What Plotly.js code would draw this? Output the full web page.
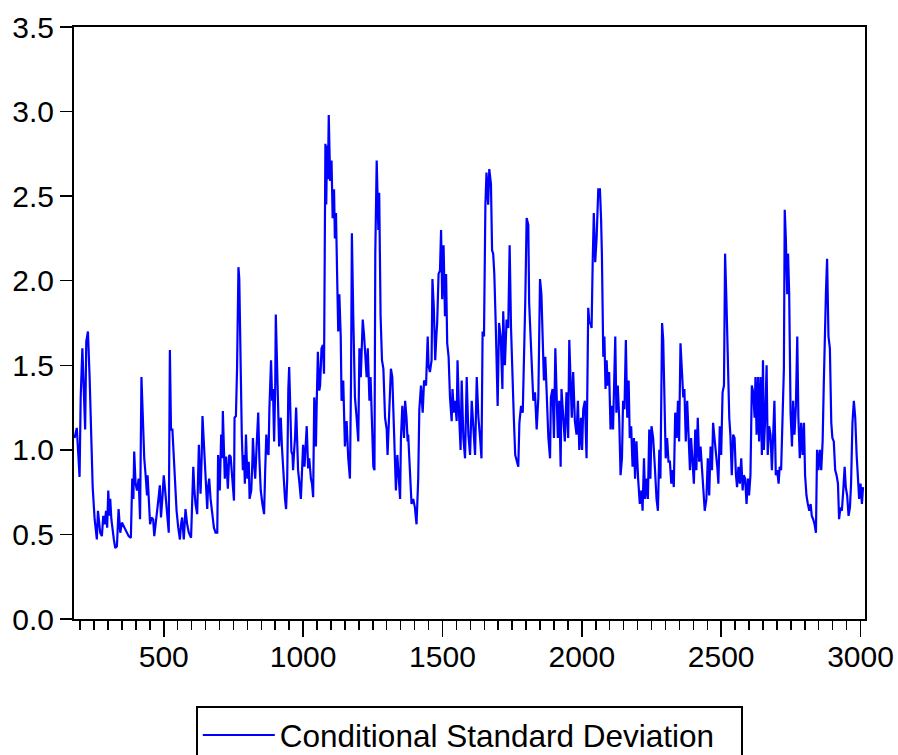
<!DOCTYPE html>
<html>
<head>
<meta charset="utf-8">
<script src="https://cdn.plot.ly/plotly-3.0.1.min.js"></script>
<style>
  html, body { margin: 0; padding: 0; background: #ffffff; }
  #chart { width: 898px; height: 755px; }
</style>
</head>
<body>
<div id="chart"></div>
<script>
const obs = [
  180,188,198,202,208,213,218,222,228,234,239,245,252,260,264,269,272,278,283,288,
  293,297,301,305,308,312,317,321,326,332,338,344,350,356,362,368,374,382,387,391,
  394,399,404,410,415,420,426,430,435,440,442,447,451,456,462,466,471,476,481,486,
  490,495,500,505,512,518,522,526,531,536,541,546,552,558,562,566,572,578,584,590,
  598,603,606,610,614,620,624,626,630,632,636,639,643,646,651,656,659,663,668,674,
  680,686,692,695,699,701,706,710,712,716,719,724,730,735,740,746,752,754,759,763,
  768,771,775,780,784,788,791,795,800,805,808,814,818,820,824,828,834,839,843,848,
  854,860,864,868,872,876,879,881,885,889,892,896,900,902,906,908,912,914,918,920,
  924,926,929,932,935,939,943,947,950,953,958,962,964,968,971,975,979,982,987,992,
  995,1000,1005,1010,1013,1018,1022,1028,1032,1036,1040,1043,1046,1049,1053,1058,1061,1066,1071,1075,
  1078,1080,1083,1086,1089,1092,1097,1102,1106,1111,1114,1118,1122,1126,1130,1135,1138,1144,1150,1156,
  1162,1168,1172,1175,1180,1186,1192,1198,1202,1207,1210,1214,1219,1222,1228,1232,1238,1242,1246,1252,
  1256,1259,1264,1268,1270,1273,1278,1283,1288,1294,1300,1303,1308,1312,1315,1320,1324,1330,1333,1338,
  1344,1348,1351,1356,1362,1366,1371,1375,1377,1383,1389,1395,1401,1407,1411,1413,1417,1423,1429,1434,
  1441,1447,1450,1455,1461,1464,1469,1474,1478,1481,1486,1491,1495,1499,1504,1509,1513,1517,1522,1527,
  1533,1536,1541,1545,1551,1554,1560,1565,1569,1575,1581,1587,1593,1599,1605,1611,1617,1623,1629,1635,
  1640,1644,1649,1654,1658,1664,1668,1674,1678,1682,1686,1691,1694,1698,1703,1709,1715,1718,1724,1730,
  1736,1741,1746,1752,1756,1761,1766,1772,1776,1782,1788,1792,1797,1802,1808,1811,1816,1821,1826,1832,
  1838,1844,1850,1855,1859,1864,1869,1874,1880,1886,1889,1895,1900,1905,1909,1914,1919,1924,1927,1933,
  1939,1945,1951,1955,1960,1964,1969,1975,1981,1986,1991,1997,2001,2005,2011,2017,2023,2027,2031,2035,
  2039,2043,2048,2053,2059,2065,2069,2072,2077,2081,2085,2089,2093,2098,2103,2108,2112,2116,2120,2124,
  2129,2134,2139,2144,2148,2153,2158,2163,2168,2172,2177,2182,2187,2191,2196,2202,2208,2214,2218,2223,
  2227,2232,2237,2242,2246,2250,2256,2262,2268,2273,2278,2282,2288,2292,2297,2301,2306,2311,2316,2321,
  2325,2330,2335,2340,2345,2349,2354,2359,2364,2368,2373,2378,2383,2388,2392,2397,2402,2407,2411,2416,
  2421,2426,2431,2435,2441,2447,2452,2457,2462,2467,2471,2476,2481,2486,2490,2495,2500,2505,2510,2514,
  2519,2524,2529,2533,2538,2543,2548,2553,2557,2562,2567,2572,2577,2581,2586,2591,2596,2600,2605,2610,
  2615,2620,2623,2627,2632,2636,2641,2646,2650,2653,2658,2663,2667,2672,2677,2682,2687,2691,2696,2701,
  2706,2710,2715,2720,2725,2728,2732,2737,2740,2744,2749,2754,2758,2763,2768,2773,2777,2782,2787,2792,
  2797,2801,2806,2811,2816,2821,2825,2830,2835,2840,2844,2849,2854,2859,2864,2868,2872,2876,2880,2885,
  2890,2895,2899,2904,2909,2914,2919,2923,2928,2933,2938,2943,2947,2952,2957,2962,2966,2971,2976,2981,
  2986,2990,2995,3000,3005,3009
];
const condSD = [
  1.07,1.13,0.84,1.31,1.60,1.29,1.12,1.64,1.70,1.43,1.17,0.78,0.59,0.47,0.64,0.54,0.51,0.49,0.61,0.56,
  0.64,0.54,0.76,0.61,0.71,0.59,0.51,0.47,0.42,0.43,0.65,0.51,0.57,0.55,0.54,0.51,0.49,0.48,0.83,0.71,
  0.99,0.80,0.76,0.83,0.59,1.43,1.07,0.95,0.85,0.73,0.85,0.64,0.56,0.60,0.59,0.49,0.56,0.61,0.71,0.79,
  0.60,0.71,0.85,0.76,0.61,0.51,1.59,1.12,1.12,0.95,0.78,0.64,0.54,0.47,0.56,0.60,0.47,0.65,0.56,0.51,
  0.48,0.68,0.90,0.76,0.68,0.62,0.88,1.03,0.83,0.74,0.95,1.20,1.07,0.97,0.80,0.65,0.78,0.83,0.71,0.64,
  0.54,0.51,0.51,0.97,0.83,0.76,1.09,0.95,1.23,0.90,0.83,0.96,0.77,0.97,0.96,0.83,0.70,1.19,1.20,1.48,
  2.08,2.01,1.43,1.09,0.88,0.97,0.80,1.09,0.83,0.93,0.71,0.76,0.93,1.07,0.93,0.83,1.05,1.22,0.95,0.76,
  0.68,0.62,0.88,1.09,0.99,0.97,1.24,1.31,1.53,1.29,1.36,1.05,1.38,1.80,1.50,1.29,1.19,1.02,1.16,1.19,
  1.02,0.95,0.90,0.83,0.71,0.65,0.83,1.36,1.49,1.31,0.99,0.97,0.88,1.00,1.07,1.25,1.07,0.88,0.80,0.71,
  0.83,1.03,0.90,1.07,1.14,0.89,0.95,0.83,0.80,0.72,1.31,1.22,1.02,1.29,1.58,1.35,1.38,1.60,1.62,1.45,
  2.06,2.81,2.45,2.80,2.60,2.98,2.59,2.71,2.37,2.54,2.25,2.40,2.04,1.70,1.92,1.67,1.29,1.41,1.02,1.17,
  0.95,0.83,1.43,2.28,1.79,1.31,1.19,1.05,1.60,1.43,1.58,1.77,1.67,1.60,1.43,1.60,1.29,1.43,1.19,0.90,
  0.88,2.16,2.71,2.45,2.30,2.52,1.79,1.53,1.48,1.19,1.12,0.97,1.24,1.36,1.48,1.43,1.19,0.83,0.76,0.97,
  0.76,0.71,1.07,1.26,1.07,1.29,1.19,1.05,1.09,0.83,0.68,0.71,0.66,0.56,0.71,0.83,1.24,1.38,1.22,1.41,
  1.38,1.67,1.50,1.46,1.53,2.01,1.84,1.53,1.67,1.75,2.04,2.06,2.30,1.89,2.21,1.79,2.04,1.63,1.55,1.31,
  1.17,1.36,1.22,1.29,1.17,1.53,1.19,1.00,1.41,1.07,0.95,1.43,1.09,0.97,1.29,1.12,0.97,1.43,1.19,1.07,
  0.95,1.70,1.67,2.45,2.64,2.45,2.66,2.57,2.18,2.16,2.04,1.75,1.48,1.26,1.75,1.67,1.36,1.82,1.50,1.77,
  1.72,2.21,1.72,1.29,1.19,0.97,0.93,0.90,1.16,1.26,1.22,1.63,1.87,2.37,2.33,1.87,1.67,1.46,1.29,1.34,
  1.12,1.31,2.01,1.92,1.67,1.41,1.55,1.29,1.07,0.95,1.31,1.36,1.07,1.60,1.36,1.07,1.29,0.90,1.36,1.22,
  1.05,1.34,1.07,1.65,1.38,1.19,1.46,1.17,1.09,1.29,1.00,1.19,1.00,1.24,1.29,0.95,1.84,1.75,1.75,1.72,
  2.11,2.40,2.11,2.25,2.54,2.54,2.37,2.16,1.55,1.67,1.36,1.53,1.38,1.46,1.12,1.26,1.12,1.48,1.67,1.22,
  1.38,1.19,0.85,0.95,1.29,1.24,1.65,1.19,1.41,1.07,1.14,0.90,1.07,0.83,1.05,0.83,0.68,0.76,0.64,0.95,
  0.71,0.83,0.71,1.12,0.83,1.14,1.07,0.90,0.71,0.64,1.00,0.83,1.75,1.65,1.24,0.95,1.07,0.93,0.93,0.80,
  0.88,0.78,1.22,1.07,1.29,1.05,1.63,1.43,1.31,1.36,1.05,1.29,1.05,0.88,1.07,0.95,0.80,1.12,0.88,1.19,
  0.93,1.02,0.88,0.76,0.64,0.71,0.95,0.73,1.02,0.88,1.16,1.07,1.00,0.90,0.80,1.14,0.97,1.34,1.38,2.16,
  1.87,1.48,1.19,1.09,0.85,1.09,1.07,0.85,0.78,0.90,0.80,0.95,0.76,0.85,0.83,0.68,0.83,0.73,0.85,1.38,
  1.34,1.19,1.43,1.09,1.43,1.05,1.43,0.97,1.53,1.00,1.19,1.50,0.97,1.14,1.09,0.88,1.19,1.29,0.85,0.88,
  0.80,0.90,0.88,1.24,1.48,2.42,2.25,1.92,2.16,1.92,1.22,1.02,1.29,1.09,1.26,1.67,1.19,0.95,1.16,0.97,
  1.16,0.85,0.73,0.68,0.64,0.68,0.61,0.59,0.56,0.51,1.00,0.88,1.00,0.88,1.05,1.38,1.72,1.94,2.13,1.67,
  1.60,1.16,1.07,1.05,0.88,0.85,0.80,0.59,0.66,0.64,0.76,0.90,0.78,0.73,0.61,0.66,0.80,1.16,1.29,1.19,
  0.97,0.85,0.71,0.80,0.68,0.78
];
const yTicks = [0, 0.5, 1.0, 1.5, 2.0, 2.5, 3.0, 3.5];
const seriesName = "Conditional Standard Deviation";

const fontFamily = '"Liberation Sans", Arial, Helvetica, sans-serif';

const trace = {
  type: 'scatter',
  mode: 'lines',
  x: obs,
  y: condSD,
  name: seriesName,
  line: { color: '#0000FF', width: 2.2 },
  showlegend: true
};

const layout = {
  width: 898,
  height: 755,
  margin: { l: 74, r: 33, t: 27, b: 136, pad: 0, autoexpand: false },
  paper_bgcolor: '#ffffff',
  plot_bgcolor: '#ffffff',
  font: { family: fontFamily, size: 30, color: '#000000' },
  showlegend: true,
  xaxis: {
    range: [178, 3016],
    tickmode: 'linear',
    tick0: 0,
    dtick: 500,
    ticks: 'outside',
    ticklen: 16,
    tickwidth: 1.5,
    tickcolor: '#000000',
    ticklabelstandoff: -6,
    showline: true,
    linecolor: '#000000',
    linewidth: 2,
    mirror: true,
    showgrid: false,
    zeroline: false,
    automargin: false,
    tickfont: { family: fontFamily, size: 30, color: '#000000' },
    minor: { dtick: 50, tick0: 0, ticks: 'outside', ticklen: 9, tickwidth: 1.5, tickcolor: '#000000', showgrid: false }
  },
  yaxis: {
    range: [0, 3.5],
    tickmode: 'array',
    tickvals: yTicks,
    tickformat: '.1f',
    ticks: 'outside',
    ticklen: 12,
    tickwidth: 1.5,
    tickcolor: '#000000',
    showline: true,
    linecolor: '#000000',
    linewidth: 2,
    mirror: true,
    showgrid: false,
    zeroline: false,
    automargin: false,
    tickfont: { family: fontFamily, size: 30, color: '#000000' }
  },
  legend: {
    orientation: 'h',
    x: 0.154,
    xanchor: 'left',
    y: -0.147,
    yanchor: 'top',
    bgcolor: '#ffffff',
    bordercolor: '#000000',
    borderwidth: 2,
    itemwidth: 72,
    entrywidth: 456,
    entrywidthmode: 'pixels',
    font: { family: fontFamily, size: 31.5, color: '#000000' }
  }
};

Plotly.newPlot('chart', [trace], layout, { displayModeBar: false, staticPlot: true });
</script>
</body>
</html>
